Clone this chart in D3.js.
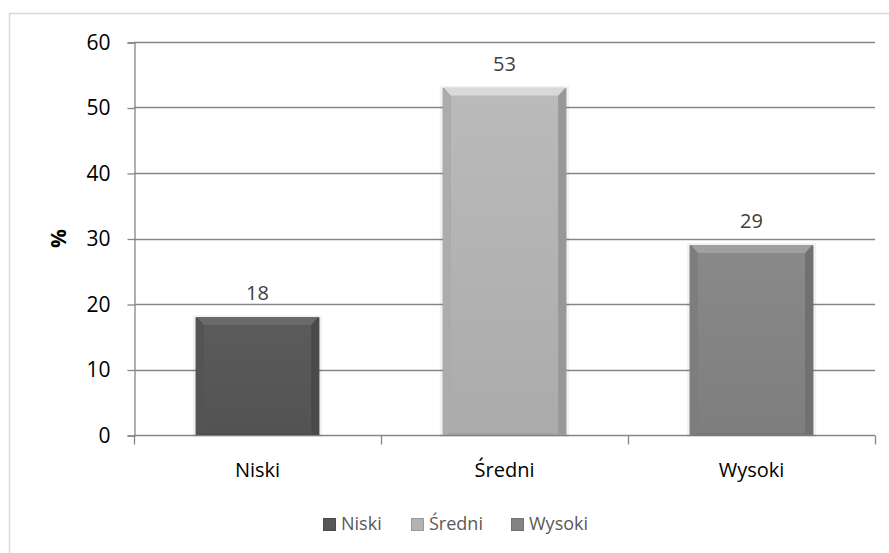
<!DOCTYPE html>
<html>
<head>
<meta charset="utf-8">
<script src="https://cdn.jsdelivr.net/npm/d3@7"></script>
<style>
  body { margin: 0; background: #fff; }
  svg { display: block; font-family: "Open Sans", "Noto Sans", sans-serif; }
</style>
</head>
<body>
<div class="canva"></div>
<script>
// data
const categories = ["Niski", "Średni", "Wysoki"];
const values = [18, 53, 29];
const barColors = ["#575757", "#b2b2b2", "#838383"];
const yTicks = [0, 10, 20, 30, 40, 50, 60];

const width = 889, height = 553;
const margin = {top: 42, right: 14, bottom: 118, left: 134};

const svg = d3.select(".canva").append("svg")
  .attr("width", width)
  .attr("height", height);

// outer frame (right and bottom edges run off the picture)
svg.append("rect")
  .attr("x", 9.5).attr("y", 13.5)
  .attr("width", 900).attr("height", 560)
  .attr("fill", "none")
  .attr("stroke", "#d9d9d9")
  .attr("stroke-width", 1.5);

const x = d3.scaleBand()
  .domain(categories)
  .range([margin.left, width - margin.right])
  .paddingInner(0.5)
  .paddingOuter(0.25);

const xOuter = d3.scaleBand()
  .domain(categories)
  .range([margin.left, width - margin.right]);

const y = d3.scaleLinear()
  .domain([0, 60])
  .range([height - margin.bottom, margin.top]);

// gridlines
svg.append("g")
  .selectAll("line")
  .data(yTicks.filter(d => d > 0))
  .join("line")
  .attr("x1", margin.left)
  .attr("x2", width - margin.right)
  .attr("y1", d => Math.round(y(d)) + 0.5)
  .attr("y2", d => Math.round(y(d)) + 0.5)
  .attr("stroke", "#868686")
  .attr("stroke-width", 1.3);

// y axis
const yAxis = svg.append("g")
  .attr("transform", `translate(${margin.left + 0.5},0.5)`)
  .call(d3.axisLeft(y).tickValues(yTicks).tickSize(7).tickPadding(17));
yAxis.attr("font-size", null).attr("font-family", null);
yAxis.select(".domain").attr("stroke", "#868686").attr("stroke-width", 1.3);
yAxis.selectAll(".tick line").attr("stroke", "#868686").attr("stroke-width", 1.3);
yAxis.selectAll("text")
  .attr("font-size", 21)
  .attr("fill", "#000");

// x axis
const xAxisG = svg.append("g")
  .attr("transform", `translate(0,${Math.round(y(0)) + 0.5})`);
xAxisG.append("line")
  .attr("x1", margin.left).attr("x2", width - margin.right)
  .attr("stroke", "#868686").attr("stroke-width", 1.3);
const boundaries = categories.map(c => xOuter(c)).concat([width - margin.right]);
xAxisG.selectAll(".xt")
  .data(boundaries)
  .join("line")
  .attr("class", "xt")
  .attr("x1", d => Math.round(d) + 0.5)
  .attr("x2", d => Math.round(d) + 0.5)
  .attr("y1", 0).attr("y2", 9)
  .attr("stroke", "#868686").attr("stroke-width", 1.3);
xAxisG.selectAll(".xl")
  .data(categories)
  .join("text")
  .attr("class", "xl")
  .attr("x", d => xOuter(d) + xOuter.bandwidth() / 2)
  .attr("y", 41)
  .attr("text-anchor", "middle")
  .attr("font-size", 20)
  .attr("fill", "#000")
  .text(d => d);

// y title
svg.append("text")
  .attr("transform", `translate(66,${(margin.top + height - margin.bottom) / 2}) rotate(-90)`)
  .attr("text-anchor", "middle")
  .attr("font-size", 21)
  .attr("font-weight", "bold")
  .attr("fill", "#000")
  .text("%");

// bevel gradients
const defs = svg.append("defs");
barColors.forEach((c, i) => {
  const g = defs.append("linearGradient")
    .attr("id", "grad" + i)
    .attr("x1", 0).attr("x2", 0).attr("y1", 0).attr("y2", 1);
  g.append("stop").attr("offset", "0%").attr("stop-color", d3.color(c).brighter(0.12));
  g.append("stop").attr("offset", "100%").attr("stop-color", d3.color(c).darker(0.12));
});

// bars
const bars = svg.append("g").selectAll("g")
  .data(values)
  .join("g");

const bevel = 8;
bars.each(function(d, i) {
  const g = d3.select(this);
  const x0 = x(categories[i]);
  const w = x.bandwidth();
  const y0 = y(d);
  const y1 = y(0);
  const h = y1 - y0;
  const base = d3.color(barColors[i]);
  // soft shadow
  g.append("rect")
    .attr("x", x0 - 3).attr("y", y0 - 2)
    .attr("width", w + 6).attr("height", h + 4)
    .attr("fill", "#000").attr("opacity", 0.05);
  // body
  g.append("rect")
    .attr("x", x0).attr("y", y0)
    .attr("width", w).attr("height", h)
    .attr("fill", base.darker(0.3));
  // inner face
  g.append("rect")
    .attr("x", x0 + bevel).attr("y", y0 + bevel)
    .attr("width", w - 2 * bevel).attr("height", h - bevel - 2)
    .attr("fill", `url(#grad${i})`);
  // top highlight
  g.append("path")
    .attr("d", `M${x0 + 1},${y0}L${x0 + w - 1},${y0}L${x0 + w - bevel},${y0 + bevel}L${x0 + bevel},${y0 + bevel}Z`)
    .attr("fill", base.brighter(0.55));
  // left side
  g.append("path")
    .attr("d", `M${x0},${y0 + 1}L${x0 + bevel},${y0 + bevel}L${x0 + bevel},${y1 - 2}L${x0},${y1}Z`)
    .attr("fill", base.darker(0.1));
  // right side
  g.append("path")
    .attr("d", `M${x0 + w},${y0 + 1}L${x0 + w - bevel},${y0 + bevel}L${x0 + w - bevel},${y1 - 2}L${x0 + w},${y1}Z`)
    .attr("fill", base.darker(0.45));
});

// value labels
svg.append("g").selectAll("text")
  .data(values)
  .join("text")
  .attr("x", (d, i) => x(categories[i]) + x.bandwidth() / 2)
  .attr("y", d => y(d) - 17)
  .attr("text-anchor", "middle")
  .attr("font-size", 20)
  .attr("fill", "#404040")
  .text(d => d);

// legend
const legendX = [323, 411, 511];
const legend = svg.append("g").selectAll("g")
  .data(categories)
  .join("g")
  .attr("transform", (d, i) => `translate(${legendX[i]},525)`);
legend.append("rect")
  .attr("x", 0.5).attr("y", -6.5)
  .attr("width", 12).attr("height", 12)
  .attr("fill", (d, i) => barColors[i])
  .attr("stroke", (d, i) => d3.color(barColors[i]).darker(0.4))
  .attr("stroke-width", 1);
legend.append("text")
  .attr("x", 18)
  .attr("y", 0)
  .attr("dominant-baseline", "middle")
  .attr("font-size", 18)
  .attr("fill", "#595959")
  .text(d => d);
</script>
</body>
</html>
